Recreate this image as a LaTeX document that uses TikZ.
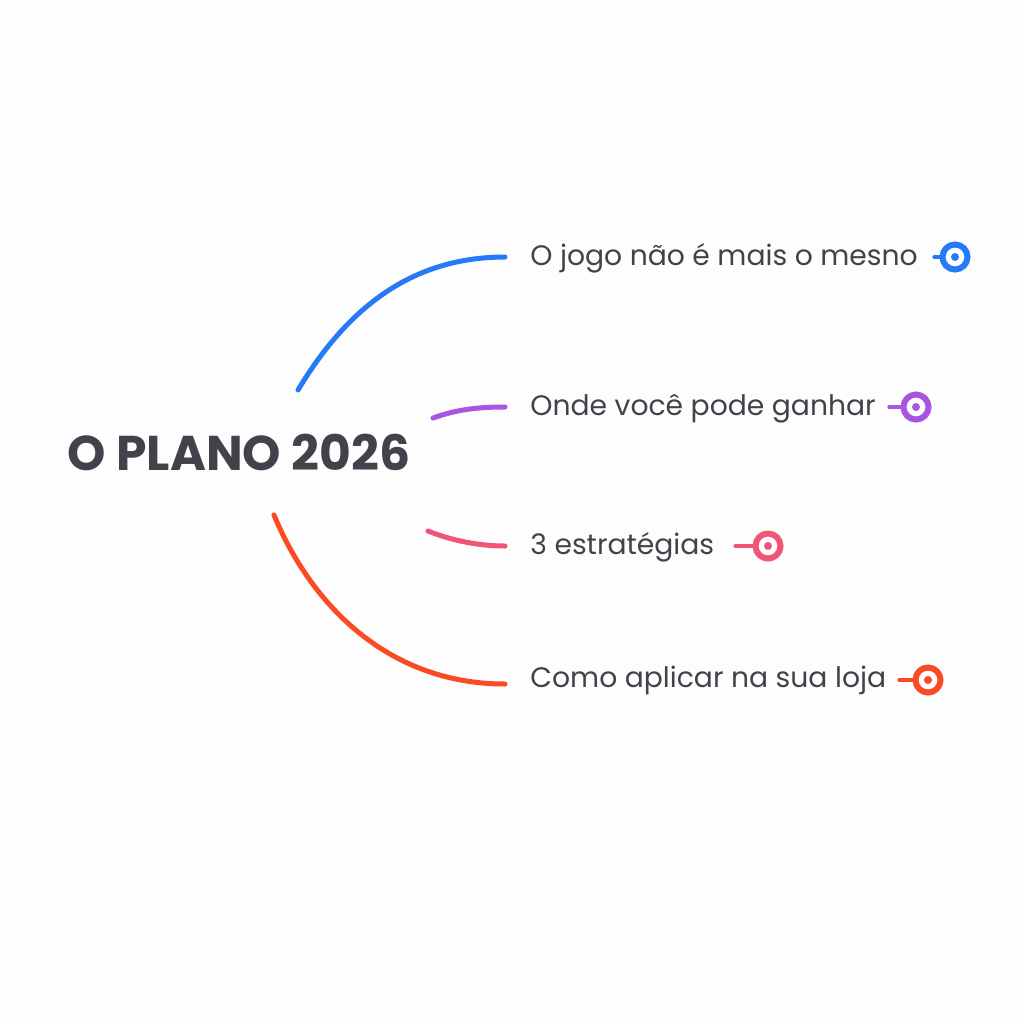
\documentclass[tikz,border=0pt]{standalone}
\usepackage{fontspec}
\setmainfont{Poppins}
\usetikzlibrary{positioning,calc}
\definecolor{mapblue}{RGB}{38,122,246}
\definecolor{mappurple}{RGB}{168,86,226}
\definecolor{mappink}{RGB}{240,84,118}
\definecolor{mapred}{RGB}{252,74,36}
\definecolor{maptext}{RGB}{66,66,74}
\definecolor{mapbg}{RGB}{253,253,253}
\tikzset{
  root/.style={font=\fontsize{24.4}{29}\selectfont\bfseries, text=maptext, inner sep=0pt},
  topic/.style={font=\fontsize{14.1}{17}\selectfont, text=maptext, anchor=base west, inner sep=0pt},
  branch/.style={line width=2.5pt, line cap=round},
  stub/.style={line width=1.6pt, line cap=round},
  marker/.style={circle, draw=#1, line width=3pt, fill=white, minimum size=12.5pt, inner sep=0pt,
                 path picture={\fill[#1] (path picture bounding box.center) circle (2pt);}}
}

\begin{document}
\begin{tikzpicture}[x=0.5pt, y=-0.5pt]
  \fill[mapbg] (0,0) rectangle (1024,1024);
  \useasboundingbox (0,0) rectangle (1024,1024);
  \node[root] (root) at (239,452) {O PLANO 2026};
  % topics
  \node[topic] (jogo) at (530,265) {O jogo não é mais o mesno};
  \node[topic] (onde) at (530,415) {Onde você pode ganhar};
  \node[topic] (estr) at (530,554) {3 estratégias};
  \node[topic] (loja) at (530,687) {Como aplicar na sua loja};
  % markers
  \node[marker=mapblue] (mjogo) at (955,257) {};
  \node[marker=mappurple] (monde) at (916,407) {};
  \node[marker=mappink] (mestr) at (768,546) {};
  \node[marker=mapred] (mloja) at (928,680) {};
  \coordinate (sjogo) at (934,257);
  \coordinate (sonde) at (889,407);
  \coordinate (sestr) at (735,546);
  \coordinate (sloja) at (899,680);
  \draw[stub, mapblue] (sjogo) -- (mjogo);
  \draw[stub, mappurple] (sonde) -- (monde);
  \draw[stub, mappink] (sestr) -- (mestr);
  \draw[stub, mapred] (sloja) -- (mloja);
  % branches
  \coordinate (bjogo) at (298,390);
  \coordinate (ejogo) at (505,257);
  \coordinate (bonde) at (433,418);
  \coordinate (eonde) at (505,407);
  \coordinate (bestr) at (428,531);
  \coordinate (eestr) at (505,546);
  \coordinate (bloja) at (274,515);
  \coordinate (eloja) at (505,684);
  \draw[branch, mapblue] (bjogo) .. controls +(48,-80) and +(-95,0) .. (ejogo);
  \draw[branch, mappurple] (bonde) .. controls +(25,-9) and +(-25,0) .. (eonde);
  \draw[branch, mappink] (bestr) .. controls +(25,10) and +(-25,0) .. (eestr);
  \draw[branch, mapred] (bloja) .. controls +(38,92) and +(-115,0) .. (eloja);
\end{tikzpicture}
\end{document}
